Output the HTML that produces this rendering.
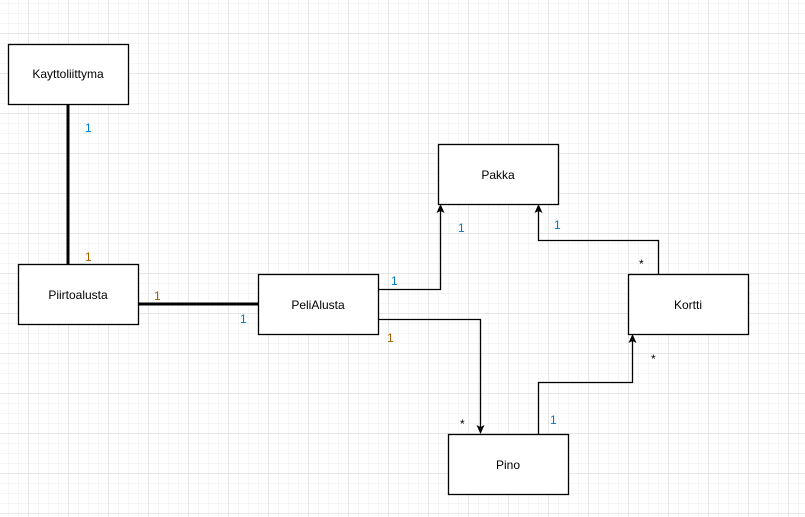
<!DOCTYPE html>
<html><head><style>
body{margin:0;width:805px;height:517px;overflow:hidden;background:#fff;
background-image:linear-gradient(#e6e6e6 1px,transparent 1px),linear-gradient(90deg,#e6e6e6 1px,transparent 1px),linear-gradient(#f5f5f5 1px,transparent 1px),linear-gradient(90deg,#f5f5f5 1px,transparent 1px);
background-size:40px 40px,40px 40px,10px 10px,10px 10px;background-position:28px 33px,28px 33px,8px 3px,8px 3px;font-family:"Liberation Sans",sans-serif}
</style></head><body>
<svg width="805" height="517" style="position:absolute;left:0;top:0" font-family="Liberation Sans, sans-serif" font-size="12">
<g fill="#fff" stroke="#000" stroke-width="1.3">
<rect x="8.5" y="44.5" width="120" height="60"/>
<rect x="18.5" y="264.5" width="120" height="60"/>
<rect x="258.5" y="274.5" width="120" height="60"/>
<rect x="438.5" y="144.5" width="120" height="60"/>
<rect x="628.5" y="274.5" width="120" height="60"/>
<rect x="448.5" y="434.5" width="120" height="60"/>
</g>
<g stroke="#000" fill="none">
<line x1="68" y1="105" x2="68" y2="264" stroke-width="3"/>
<line x1="139" y1="304" x2="258" y2="304" stroke-width="3"/>
<g stroke-width="1.3">
<polyline points="379,289.5 440.5,289.5 440.5,210"/>
<polyline points="379,319.5 480.5,319.5 480.5,428"/>
<polyline points="658.5,274 658.5,240.5 538.5,240.5 538.5,210"/>
<polyline points="538.5,434 538.5,382.5 632.5,382.5 632.5,340"/>
</g></g>
<g fill="#000">
<path d="M440.5 204 L444.5 213 L440.5 211 L436.5 213Z"/>
<path d="M538.5 204 L542.5 213 L538.5 211 L534.5 213Z"/>
<path d="M632.5 334 L636.5 343 L632.5 341 L628.5 343Z"/>
<path d="M480.5 434 L484.5 425 L480.5 427 L476.5 425Z"/>
</g>
<g text-anchor="middle" fill="#000">
<text x="68" y="78">Kayttoliittyma</text>
<text x="78" y="299">Piirtoalusta</text>
<text x="318" y="309">PeliAlusta</text>
<text x="498" y="179">Pakka</text>
<text x="688" y="309">Kortti</text>
<text x="508" y="469">Pino</text>
</g>
<g fill="#0077cc">
<text x="85" y="132">1</text><text x="240" y="323">1</text><text x="391" y="285">1</text>
<text x="458" y="232">1</text><text x="554" y="229">1</text><text x="550" y="424">1</text>
</g>
<g fill="#a06000">
<text x="85" y="261">1</text><text x="154" y="300">1</text><text x="387" y="342">1</text>
</g>
<g fill="#000">
<text x="639" y="268">*</text><text x="651" y="363">*</text><text x="460" y="428">*</text>
</g>
</svg>
</body></html>
